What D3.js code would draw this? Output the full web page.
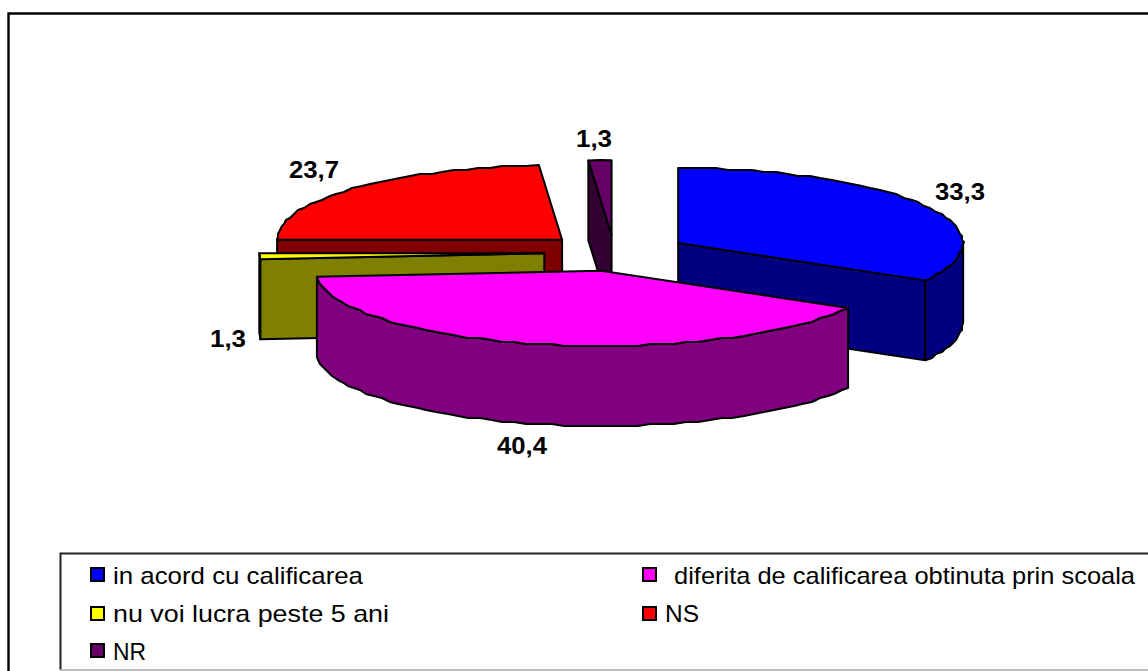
<!DOCTYPE html>
<html>
<head>
<meta charset="utf-8">
<script src="https://cdn.jsdelivr.net/npm/d3@7"></script>
<style>
  html, body { margin: 0; padding: 0; background: #fff; overflow: hidden; }
  text { font-family: "Liberation Sans", Arial, sans-serif; fill: #000; }
</style>
</head>
<body>
<svg id="chart" width="1148" height="671"></svg>
<script>
const categories = ["in acord cu calificarea", " diferita de calificarea obtinuta prin scoala", "nu voi lucra peste 5 ani", "NS", "NR"]
const values = [33.3, 40.4, 1.3, 23.7, 1.3]
const topColors = ["#0000ff", "#ff00ff", "#ffff00", "#ff0000", "#660066"]
const sideColors = ["#000080", "#800080", "#808000", "#800000", "#330033"]

// layout of the tilted pie, measured on the picture
const cx = 616.5, cy = 252.4, rx = 285, ry = 75, depth = 80, explode = 0.25
const nudgeX = [0, 0, -1, -2, -2]
const nudgeY = [0, 0, 0, 0, 1.5]
const svg = d3.select("#chart")

// back to front
const drawOrder = [0, 4, 3, 2, 1]

const arcs = d3.pie().sort(null).value(d => d)(values)
const line = d3.line()

function point(center, angle, r) {
  return [center[0] + r * rx * Math.sin(angle), center[1] - r * ry * Math.cos(angle)]
}

// the rim of the original is a rough polyline, keep that look
function rim(center, a0, a1) {
  let pts = []
  let n = Math.max(1, Math.round(Math.abs(a1 - a0) / (2.5 * Math.PI / 180)))
  for (let i = 0; i <= n; i++) {
    let p = point(center, a0 + (a1 - a0) * i / n, 1)
    if (i > 0 && i < n) { p = [Math.round(p[0] / 2) * 2, Math.round(p[1] / 2) * 2] }
    pts.push(p)
  }
  return pts
}

const down = p => [p[0], p[1] + depth]

function face(pts, fill) {
  svg.append("path")
    .attr("d", line(pts) + "Z")
    .attr("fill", fill)
    .attr("stroke", "#000")
    .attr("stroke-width", 2)
    .attr("stroke-linejoin", "round")
}

// outer frame, open on the right like the picture
svg.append("path")
  .attr("d", "M1148,13.5H8.5V671")
  .attr("fill", "none").attr("stroke", "#000").attr("stroke-width", 2.4)

drawOrder.forEach(i => {
  const d = arcs[i]
  const mid = (d.startAngle + d.endAngle) / 2
  const c = [cx + nudgeX[i] + explode * rx * Math.sin(mid), cy + nudgeY[i] - explode * ry * Math.cos(mid)]
  const a0 = d.startAngle, a1 = d.endAngle

  // cut faces turned to the viewer
  if (Math.sin(a0) < -1e-6) {
    let o = point(c, a0, 1)
    face([c, o, down(o), down(c)], sideColors[i])
  }
  if (Math.sin(a1) > 1e-6) {
    let o = point(c, a1, 1)
    face([c, o, down(o), down(c)], sideColors[i])
  }
  // outer wall, only the front half shows
  const w0 = Math.max(a0, Math.PI / 2), w1 = Math.min(a1, Math.PI * 1.5)
  if (w1 > w0) {
    let r = rim(c, w0, w1)
    face(r.concat(r.slice().reverse().map(down)), sideColors[i])
  }
  // top
  face([c].concat(rim(c, a0, a1)), topColors[i])
})

// value labels
const labelX = [960, 522, 228, 314, 594]
const labelY = [200, 454, 347, 178, 147]
const labelW = [50, 50, 36, 50, 36]
svg.selectAll(".val").data(values).enter().append("text")
  .attr("class", "val")
  .attr("x", (d, i) => labelX[i])
  .attr("y", (d, i) => labelY[i])
  .attr("text-anchor", "middle")
  .attr("font-size", 24)
  .attr("font-weight", "bold")
  .attr("textLength", (d, i) => labelW[i])
  .attr("lengthAdjust", "spacingAndGlyphs")
  .text(d => String(d).replace(".", ","))

// legend
svg.append("path")
  .attr("d", "M1148,553.5H60.5V670")
  .attr("fill", "none").attr("stroke", "#222").attr("stroke-width", 2)
svg.append("line")
  .attr("x1", 60).attr("x2", 1148).attr("y1", 670).attr("y2", 670)
  .attr("stroke", "#aaa").attr("stroke-width", 1.5)

const legendSwatchX = [91, 643, 91, 643, 91]
const legendSwatchY = [568, 568, 607, 607, 644]
const legendTextX = [113, 667, 113, 665, 113]
const legendTextY = [584, 584, 622, 622, 660]
const legendTextW = [250, 468, 276, 34, 33]

svg.selectAll(".swatch").data(categories).enter().append("rect")
  .attr("class", "swatch")
  .attr("x", (d, i) => legendSwatchX[i])
  .attr("y", (d, i) => legendSwatchY[i])
  .attr("width", 13).attr("height", 13)
  .attr("fill", (d, i) => topColors[i])
  .attr("stroke", "#000").attr("stroke-width", 2)

svg.selectAll(".leg").data(categories).enter().append("text")
  .attr("class", "leg")
  .attr("x", (d, i) => legendTextX[i])
  .attr("y", (d, i) => legendTextY[i])
  .attr("font-size", 24)
  .style("white-space", "pre")
  .attr("textLength", (d, i) => legendTextW[i])
  .attr("lengthAdjust", "spacingAndGlyphs")
  .text(d => d)
</script>
</body>
</html>
